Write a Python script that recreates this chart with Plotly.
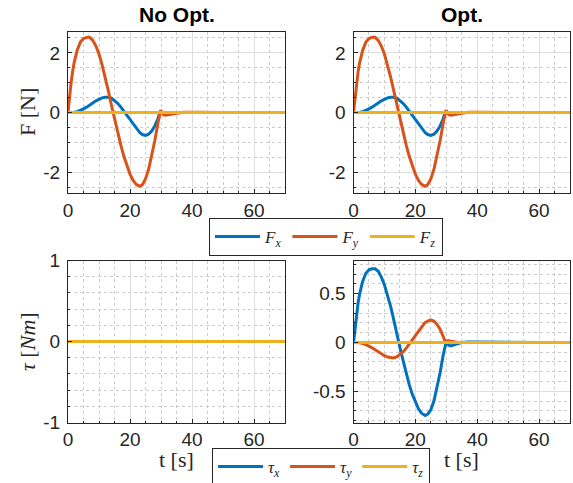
import plotly.graph_objects as go

# ---- sampled signals (time in s) ----
t = [0, 0.5, 1, 1.5, 2, 3, 4, 5, 6, 6.5, 7, 8, 9, 10, 11, 12, 12.6, 13, 14, 15,
     16, 17, 18, 19, 20, 21, 22, 23, 23.2, 24, 24.8, 25, 26, 27, 28, 29, 29.6, 29.9, 30.3, 30.8,
     31.5, 32.5, 33.5, 35, 37, 40, 45, 50, 60, 70]

force_x = [0, 0, 0, 0.005, 0.01, 0.03, 0.07, 0.12, 0.18, 0.21, 0.25, 0.32, 0.39, 0.45, 0.49, 0.51, 0.52, 0.51, 0.48, 0.41,
           0.31, 0.19, 0.05, -0.1, -0.26, -0.41, -0.55, -0.66, -0.68, -0.74, -0.77, -0.77, -0.73, -0.62, -0.45, -0.21, 0.0, 0.02, 0.01, 0.0,
           0, 0, 0, 0, 0, 0, 0, 0, 0, 0]

force_y = [0, 0.55, 1.0, 1.38, 1.68, 2.1, 2.36, 2.48, 2.52, 2.53, 2.52, 2.42, 2.23, 1.96, 1.60, 1.19, 0.92, 0.73, 0.25, -0.22,
           -0.66, -1.08, -1.46, -1.79, -2.07, -2.28, -2.41, -2.47, -2.47, -2.42, -2.28, -2.23, -1.91, -1.47, -0.95, -0.36, 0.0, 0.08, 0.0, -0.07,
           -0.09, -0.07, -0.04, -0.01, 0.01, 0.01, 0, 0, 0, 0]

torque_x_opt = [0, 0.16, 0.30, 0.41, 0.50, 0.63, 0.71, 0.745, 0.755, 0.757, 0.755, 0.73, 0.67, 0.59, 0.49, 0.37, 0.29, 0.23, 0.09, -0.05,
                -0.18, -0.31, -0.43, -0.53, -0.61, -0.68, -0.725, -0.745, -0.748, -0.735, -0.70, -0.69, -0.60, -0.47, -0.31, -0.13, -0.02, 0.0, -0.015, -0.028,
                -0.035, -0.028, -0.015, 0.0, 0.006, 0.006, 0.003, 0, 0, 0]

torque_y_opt = [0, 0, 0, -0.002, -0.004, -0.01, -0.022, -0.037, -0.055, -0.065, -0.076, -0.097, -0.118, -0.136, -0.149, -0.157, -0.16, -0.158, -0.148, -0.127,
                -0.097, -0.061, -0.018, 0.029, 0.078, 0.124, 0.166, 0.199, 0.205, 0.222, 0.23, 0.23, 0.219, 0.186, 0.135, 0.063, 0.01, 0.015, 0.018, 0.017,
                0.012, 0.006, 0.003, 0.0, 0, 0, 0, 0, 0, 0]

# signals that stay at zero over the whole run
t_flat = [0, 70]
force_z = [0, 0]
torque_noopt = [0, 0]
torque_z_opt = [0, 0]

panel_titles = ["No Opt.", "Opt."]
x_ticks = [0, 20, 40, 60]
x_ticktext = ["0", "20", "40", "60"]
f_ticks = [-2, 0, 2]
f_ticktext = ["-2", "0", "2"]
tau_noopt_ticks = [-1, 0, 1]
tau_noopt_ticktext = ["-1", "0", "1"]
tau_opt_ticks = [-0.5, 0, 0.5]
tau_opt_ticktext = ["-0.5", "0", "0.5"]

# ---- styling ----
W, H = 573, 483
BLUE, RED, YELLOW = "#0072BD", "#D95319", "#EDB120"
AX = "#262626"
GRID = "#dedede"
MINOR = "#cccccc"
SANS = "Liberation Sans, Arial, sans-serif"
SERIF = "Liberation Serif, Times New Roman, serif"

fig = go.Figure()


def add(xa, ya, x, y, color, name, legend, show):
    fig.add_trace(go.Scatter(
        x=x, y=y, mode="lines", name=name,
        line=dict(color=color, width=3),
        xaxis=xa, yaxis=ya, legend=legend, showlegend=show,
        hoverinfo="skip"))


# forces
for xa, ya, show in [("x", "y", True), ("x2", "y2", False)]:
    add(xa, ya, t, force_x, BLUE, "<i>F</i><sub><i>x</i></sub>", "legend", show)
    add(xa, ya, t, force_y, RED, "<i>F</i><sub><i>y</i></sub>", "legend", show)
    add(xa, ya, t_flat, force_z, YELLOW, "<i>F</i><sub><i>z</i></sub>", "legend", show)

# torques
add("x3", "y3", t_flat, torque_noopt, BLUE, "<i>τ</i><sub><i>x</i></sub>", "legend2", True)
add("x3", "y3", t_flat, torque_noopt, RED, "<i>τ</i><sub><i>y</i></sub>", "legend2", True)
add("x3", "y3", t_flat, torque_noopt, YELLOW, "<i>τ</i><sub><i>z</i></sub>", "legend2", True)
add("x4", "y4", t, torque_x_opt, BLUE, "tx", "legend2", False)
add("x4", "y4", t, torque_y_opt, RED, "ty", "legend2", False)
add("x4", "y4", t_flat, torque_z_opt, YELLOW, "tz", "legend2", False)


def px_x(a, b):
    return [a / W, b / W]


def px_y(top, bottom):
    return [1 - bottom / H, 1 - top / H]


def axis(domain, anchor, rng, tickvals, ticktext, minor_dt, standoff):
    return dict(
        domain=domain, anchor=anchor, range=rng, automargin=False,
        tickmode="array", tickvals=tickvals, ticktext=ticktext,
        showline=True, linecolor=AX, linewidth=1, mirror=True,
        ticks="inside", ticklen=4, tickcolor=AX, ticklabelstandoff=standoff,
        showgrid=True, gridcolor=GRID, gridwidth=1, zeroline=False,
        minor=dict(tickmode="linear", tick0=0, dtick=minor_dt, showgrid=True,
                   gridcolor=MINOR, griddash="dot", gridwidth=1,
                   ticks="inside", ticklen=2, tickcolor=AX),
        tickfont=dict(family=SANS, size=19, color=AX),
        fixedrange=True,
    )


XL, XR = px_x(68, 285), px_x(353.5, 570)
YT, YB = px_y(32, 193), px_y(260.5, 422.5)

legend_common = dict(orientation="h", xanchor="left", yanchor="top",
                     bordercolor=AX, borderwidth=1, bgcolor="white",
                     font=dict(family=SERIF, size=17, color=AX),
                     itemwidth=45, tracegroupgap=0, traceorder="normal")

fig.update_layout(
    width=W, height=H,
    margin=dict(l=0, r=0, t=0, b=0, pad=0, autoexpand=False),
    paper_bgcolor="white", plot_bgcolor="white",
    xaxis=axis(XL, "y", [0, 70], x_ticks, x_ticktext, 5, 0),
    yaxis=axis(YT, "x", [-2.7, 2.7], f_ticks, f_ticktext, 0.5, 3),
    xaxis2=axis(XR, "y2", [0, 70], x_ticks, x_ticktext, 5, 0),
    yaxis2=axis(YT, "x2", [-2.7, 2.7], f_ticks, f_ticktext, 0.5, 3),
    xaxis3=axis(XL, "y3", [0, 70], x_ticks, x_ticktext, 5, 0),
    yaxis3=axis(YB, "x3", [-1, 1], tau_noopt_ticks, tau_noopt_ticktext, 0.2, 3),
    xaxis4=axis(XR, "y4", [0, 70], x_ticks, x_ticktext, 5, 0),
    yaxis4=axis(YB, "x4", [-0.82, 0.84], tau_opt_ticks, tau_opt_ticktext, 0.1, 3),
    legend=dict(x=209 / W, y=1 - 218 / H, **legend_common),
    legend2=dict(x=212 / W, y=1 - 448 / H, **legend_common),
    showlegend=True,
)

annotations = [
    dict(text="<b>%s</b>" % panel_titles[0], x=176.5 / W, y=1 - 15 / H),
    dict(text="<b>%s</b>" % panel_titles[1], x=461.8 / W, y=1 - 15 / H),
]
for a in annotations:
    a.update(xref="paper", yref="paper", showarrow=False, xanchor="center", yanchor="middle",
             font=dict(family=SANS, size=21, color="black"))

labels = [
    dict(text="F [N]", x=27 / W, y=1 - 112 / H, textangle=-90),
    dict(text="<i>τ</i> [<i>Nm</i>]", x=27 / W, y=1 - 342 / H, textangle=-90),
    dict(text="t [s]", x=176 / W, y=1 - 459 / H, textangle=0),
    dict(text="t [s]", x=461 / W, y=1 - 459 / H, textangle=0),
]
for a in labels:
    a.update(xref="paper", yref="paper", showarrow=False, xanchor="center", yanchor="middle",
             font=dict(family=SERIF, size=22, color=AX))

fig.update_layout(annotations=annotations + labels)

fig.write_html("out.html")
